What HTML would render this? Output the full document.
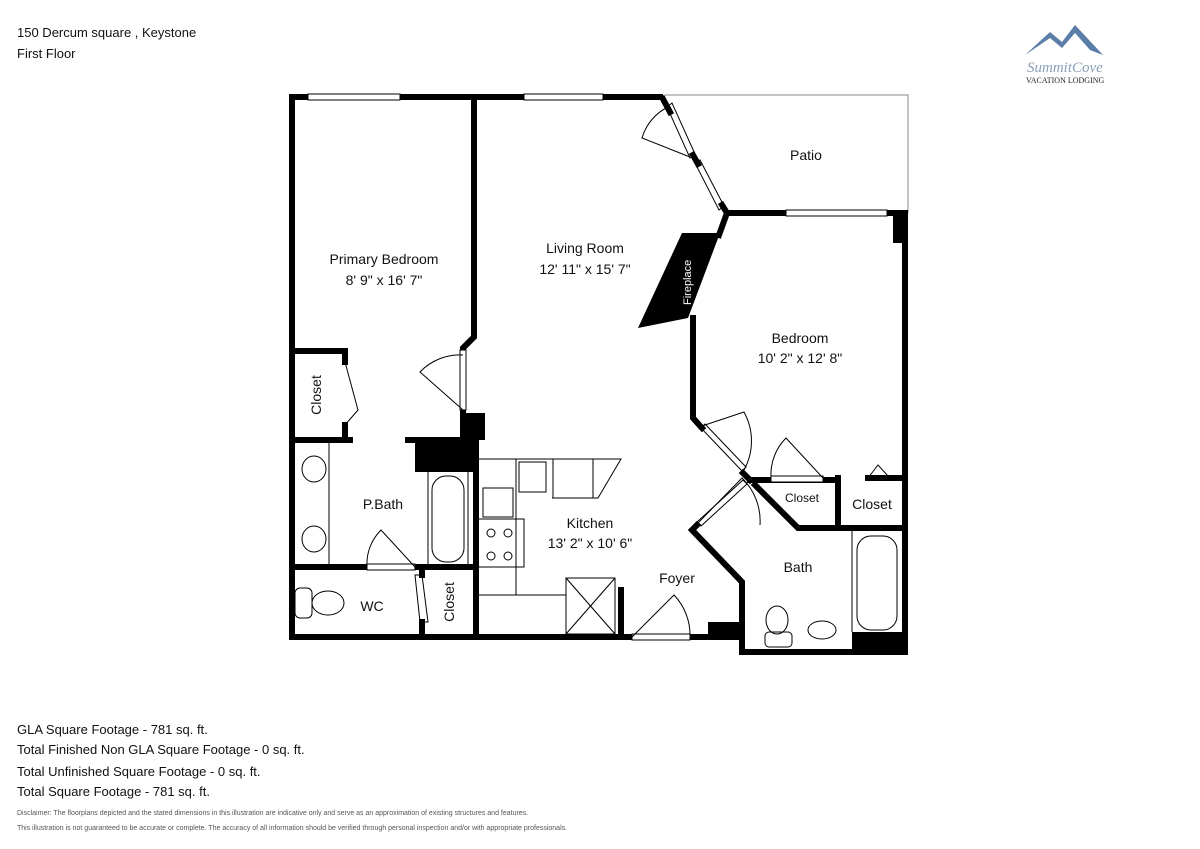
<!DOCTYPE html>
<html><head><meta charset="utf-8"><style>
body{margin:0;background:#fff;font-family:"Liberation Sans",Arial,sans-serif;}
.w{width:1200px;height:849px;position:relative;overflow:hidden;background:#fff}
.t{position:absolute;color:#111;white-space:nowrap}
</style></head><body><div class="w">
<div class="t" style="left:17px;top:25px;font-size:13px">150 Dercum square , Keystone</div>
<div class="t" style="left:17px;top:46px;font-size:13px">First Floor</div>
<div class="t" style="left:17px;top:722px;font-size:13px">GLA Square Footage - 781 sq. ft.</div>
<div class="t" style="left:17px;top:742px;font-size:13px">Total Finished Non GLA Square Footage - 0 sq. ft.</div>
<div class="t" style="left:17px;top:764px;font-size:13px">Total Unfinished Square Footage - 0 sq. ft.</div>
<div class="t" style="left:17px;top:784px;font-size:13px">Total Square Footage - 781 sq. ft.</div>
<div class="t" style="left:17px;top:810px;font-size:7px;color:#555">Disclaimer: The floorplans depicted and the stated dimensions in this illustration are indicative only and serve as an approximation of existing structures and features.</div>
<div class="t" style="left:17px;top:825px;font-size:7px;color:#555">This illustration is not guaranteed to be accurate or complete. The accuracy of all information should be verified through personal inspection and/or with appropriate professionals.</div>
<svg width="1200" height="849" style="position:absolute;left:0;top:0" font-family="Liberation Sans, Arial, sans-serif">
<!-- logo -->
<path d="M1025 55 L1050 32 L1062 42 L1075 25 L1103 55 L1090 50 L1075 33 L1062 48 L1050 38 Z" fill="#5b7ea8"/>
<text x="1027" y="72" font-size="15" font-family="Liberation Serif, serif" font-style="italic" fill="#8a9fb8">SummitCove</text>
<text x="1026" y="83" font-size="8" font-family="Liberation Serif, serif" fill="#222">VACATION LODGING</text>
<!-- patio thin lines -->
<polyline points="665,95 908,95 908,213" fill="none" stroke="#888" stroke-width="1"/>
<g stroke="#000" stroke-width="6" fill="none" stroke-linecap="square">
<!-- outer top -->
<line x1="292" y1="97" x2="660" y2="97"/>
<line x1="292" y1="97" x2="292" y2="637"/>
<line x1="292" y1="637" x2="742" y2="637"/>
<!-- primary/living divider -->
<polyline points="474,97 474,337 463,348 463,356"/>
<line x1="463" y1="410" x2="463" y2="435"/>
<!-- patio diag -->
<line x1="663" y1="99" x2="670" y2="112"/>
<line x1="693" y1="155" x2="698" y2="164"/>
<line x1="722" y1="205" x2="727" y2="213"/>
<line x1="727" y1="213" x2="905" y2="213"/>
<line x1="905" y1="213" x2="905" y2="527"/>
<polyline points="727,213 719,235"/>
<polyline points="693,318 693,418 702,428"/>
<line x1="743" y1="473" x2="750" y2="480"/>
<!-- closets -->
<line x1="750" y1="480" x2="835" y2="480"/>
<line x1="838" y1="478" x2="838" y2="528"/>
<line x1="868" y1="478" x2="905" y2="478"/>
<polyline points="755,485 798,528 905,528"/>
<!-- bath -->
<polyline points="697,525 692,530 742,582 742,652 905,652 905,527"/>
<!-- primary closet -->
<polyline points="292,351 345,351 345,362"/>
<line x1="345" y1="425" x2="345" y2="440"/>
<line x1="292" y1="440" x2="350" y2="440"/>
<line x1="408" y1="440" x2="470" y2="440"/>
<!-- pbath bottom -->
<line x1="292" y1="567" x2="367" y2="567"/>
<line x1="415" y1="567" x2="476" y2="567"/>
<line x1="476" y1="440" x2="476" y2="637"/>
<line x1="422" y1="567" x2="422" y2="575"/>
<line x1="422" y1="622" x2="422" y2="637"/>
<line x1="621" y1="590" x2="621" y2="632"/>
</g>
<!-- blocks -->
<rect x="415" y="437" width="58" height="35" fill="#000"/>
<rect x="460" y="413" width="25" height="27" fill="#000"/>
<rect x="893" y="213" width="12" height="30" fill="#000"/>
<rect x="852" y="632" width="53" height="20" fill="#000"/>
<rect x="708" y="622" width="34" height="16" fill="#000"/>
<polygon points="682,233 720,233 688,318 638,328" fill="#000"/>
<text transform="translate(691,305) rotate(-90)" font-size="11" fill="#fff">Fireplace</text>
<!-- windows -->
<g fill="#fff" stroke="#000" stroke-width="1">
<rect x="308" y="94" width="92" height="6"/>
<rect x="524" y="94" width="79" height="6"/>
<rect x="786" y="210" width="101" height="6"/>
<rect x="460" y="350" width="6" height="60"/>
<rect x="367" y="564" width="48" height="6"/>
<rect x="632" y="634" width="58" height="6"/>
<rect x="771" y="476" width="52" height="6"/>
</g>
<g fill="none" stroke="#000" stroke-width="1">
<polygon points="667,107 672,103 695,154 690,158"/>
<polygon points="695,163 700,160 724,206 719,210"/>
<path d="M690,157 L642,138 A50,50 0 0 1 668,107"/>
<path d="M463,355 A55,55 0 0 0 420,372 L463,410"/>
<path d="M367,567 A48,48 0 0 1 381,530 L415,567"/>
<path d="M632,637 L674,595 A58,58 0 0 1 690,637"/>
<path d="M771,478 A52,52 0 0 1 786,438 L823,478"/>
<polygon points="701,428 705,424 746,467 742,471"/>
<path d="M702,426 L744,412 A60,60 0 0 1 744,470"/>
<polygon points="697,522 701,526 747,484 743,480"/>
<path d="M697,524 L742,478 A60,60 0 0 1 760,525"/>
<path d="M345,362 L358,410 L345,425"/>
<path d="M868,478 L878,465 L888,476"/>
<path d="M422,575 L415,575 L420,622 L428,622 Z"/>
<!-- pbath -->
<line x1="329" y1="443" x2="329" y2="564"/>
<ellipse cx="314" cy="469" rx="12" ry="13"/>
<ellipse cx="314" cy="539" rx="12" ry="13"/>
<line x1="428" y1="472" x2="428" y2="564"/><line x1="468" y1="472" x2="468" y2="564"/>
<rect x="432" y="476" width="32" height="86" rx="14"/>
<!-- WC -->
<rect x="295" y="588" width="17" height="30" rx="5"/>
<ellipse cx="328" cy="603" rx="16" ry="12"/>
<!-- kitchen -->
<polyline points="478,459 621,459 598,498 552,498"/>
<line x1="516" y1="459" x2="516" y2="595"/>
<line x1="478" y1="595" x2="566" y2="595"/>
<rect x="519" y="462" width="27" height="30"/>
<rect x="553" y="459" width="40" height="39"/>
<rect x="483" y="488" width="30" height="29"/>
<rect x="478" y="519" width="46" height="48"/>
<circle cx="491" cy="533" r="4"/><circle cx="508" cy="533" r="4"/><circle cx="491" cy="556" r="4"/><circle cx="508" cy="556" r="4"/>
<rect x="566" y="578" width="49" height="56"/>
<line x1="566" y1="578" x2="615" y2="634"/><line x1="615" y1="578" x2="566" y2="634"/>
<!-- bath -->
<line x1="852" y1="530" x2="852" y2="632"/>
<rect x="857" y="536" width="40" height="94" rx="14"/>
<ellipse cx="777" cy="620" rx="11" ry="14"/>
<rect x="765" y="632" width="27" height="15" rx="4"/>
<ellipse cx="822" cy="630" rx="14" ry="9"/>
</g>
<g font-size="14" fill="#111" text-anchor="middle">
<text x="384" y="264">Primary Bedroom</text><text x="384" y="285">8' 9" x 16' 7"</text>
<text x="585" y="253">Living Room</text><text x="585" y="274">12' 11" x 15' 7"</text>
<text x="806" y="160">Patio</text>
<text x="800" y="343">Bedroom</text><text x="800" y="363">10' 2" x 12' 8"</text>
<text x="383" y="509">P.Bath</text>
<text x="590" y="528">Kitchen</text><text x="590" y="548">13' 2" x 10' 6"</text>
<text x="677" y="583">Foyer</text>
<text x="798" y="572">Bath</text>
<text x="372" y="611">WC</text>
<text x="872" y="509">Closet</text>
<text x="802" y="502" font-size="12">Closet</text>
<text transform="translate(321,395) rotate(-90)">Closet</text>
<text transform="translate(454,602) rotate(-90)">Closet</text>
</g>
</svg>
</div></body></html>
